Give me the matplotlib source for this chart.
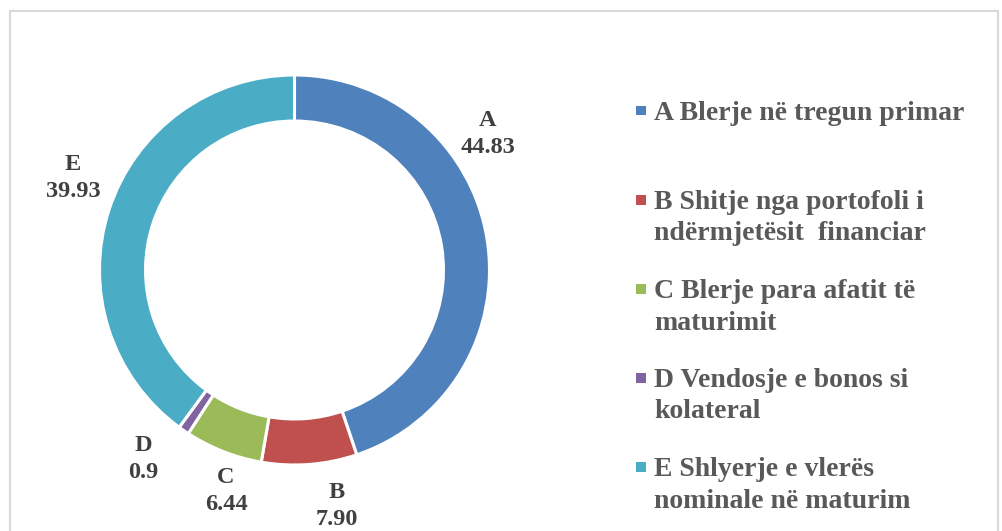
import matplotlib
matplotlib.use("Agg")
import matplotlib.pyplot as plt
from matplotlib.patches import Rectangle

# ---- data ----
codes = ["A", "B", "C", "D", "E"]
values = [44.83, 7.90, 6.44, 0.9, 39.93]
value_labels = ["44.83", "7.90", "6.44", "0.9", "39.93"]
legend_labels = [
    "A Blerje në tregun primar",
    "B Shitje nga portofoli i\nndërmjetësit  financiar",
    "C Blerje para afatit të\nmaturimit",
    "D Vendosje e bonos si\nkolateral",
    "E Shlyerje e vlerës\nnominale në maturim",
]
colors = ["#4F81BD", "#C0504D", "#9BBB59", "#8064A2", "#4BACC6"]

# ---- layout ----
W, H = 1002, 531
fig = plt.figure(figsize=(W / 100, H / 100), dpi=100)
fig.patch.set_facecolor("white")

# border
fig.add_artist(Rectangle((10 / W, -0.05), (998 - 10) / W, (H - 11) / H + 0.05,
                         transform=fig.transFigure, fill=False,
                         edgecolor="#D9D9D9", linewidth=1.5))

R = 195.0
cx, cy = 294.5, 270.0  # pixels from left / top
ax = fig.add_axes([0, 0, 600 / W, 1])
ax.axis("off")

wedges, _ = ax.pie(values, colors=colors, startangle=90, counterclock=False,
                   radius=1.0,
                   wedgeprops=dict(width=0.236, edgecolor="white", linewidth=2.2))
ax.set_xlim(-cx / R, (600 - cx) / R)
ax.set_ylim(-(H - cy) / R, cy / R)
ax.set_aspect("auto")

label_font = dict(family="Liberation Serif", weight="bold", size=17.5, color="#404040")
# label positions: (x centre, baseline of first line) in pixels from left / top
label_pos = [(488, 126), (337, 498), (226, 483), (143, 451), (73, 170)]
for code, vl, (px, py) in zip(codes, value_labels, label_pos):
    for k, line in enumerate([code, vl]):
        ax.text((px - cx) / R, (cy - (py + 27 * k)) / R, line, ha="center",
                va="baseline", **label_font)

# legend
leg_font = dict(family="Liberation Serif", weight="bold", size=20, color="#595959")
leg_y = [111, 200, 289, 378, 467]
for lab, col, y in zip(legend_labels, colors, leg_y):
    fig.add_artist(Rectangle((636 / W, 1 - (y + 4.5) / H), 9.5 / W, 9.5 / H,
                             transform=fig.transFigure, facecolor=col, edgecolor="none"))
    for k, line in enumerate(lab.split("\n")):
        fig.text(654 / W, 1 - (y + 9 + 31.5 * k) / H, line, ha="left",
                 va="baseline", **leg_font)

fig.savefig("out.png", dpi=100)
